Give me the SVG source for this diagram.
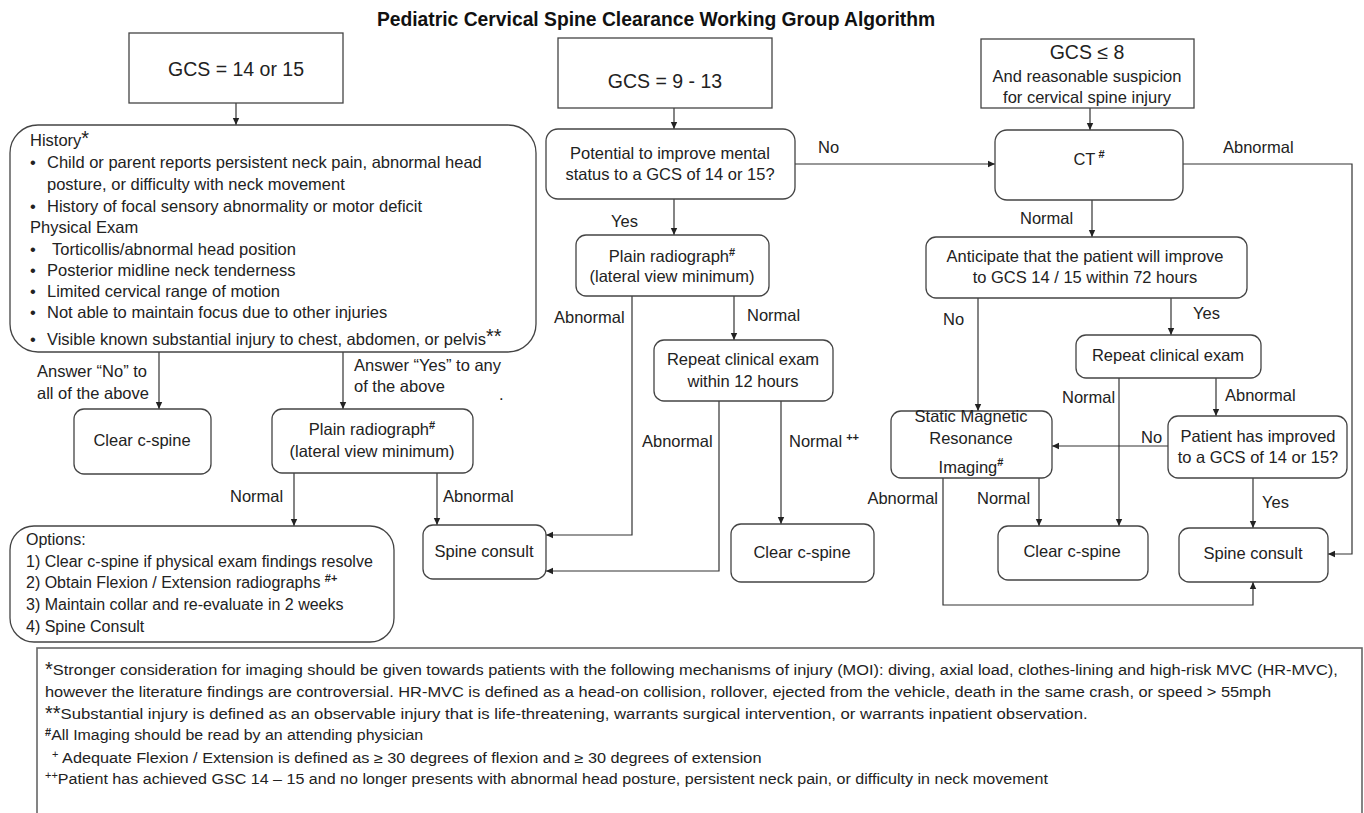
<svg xmlns="http://www.w3.org/2000/svg" width="1364" height="813" viewBox="0 0 1364 813">
<style>
text{font-family:"Liberation Sans",Arial,sans-serif;font-size:16.5px;fill:#222}
.c{text-anchor:middle}
.e{text-anchor:end}
.big{font-size:19.5px}
.title{font-size:19.3px;font-weight:bold;fill:#111}
.o{font-size:16px}
.f{font-size:14px}
.box{fill:#fff;stroke:#444;stroke-width:1.3}
.ln{fill:none;stroke:#333;stroke-width:1.2}
.ft{fill:#fff;stroke:#666;stroke-width:1.6}
.sup{font-size:11px;font-weight:bold}
.star{font-size:20px}
</style>
<defs>
<marker id="ah" markerUnits="userSpaceOnUse" markerWidth="8" markerHeight="8" refX="7" refY="4" orient="auto">
<path d="M0,0.8 L7,4 L0,7.2 z" fill="#222"/>
</marker>
</defs>
<rect width="1364" height="813" fill="#fff"/>
<text class="title c" x="656" y="26">Pediatric Cervical Spine Clearance Working Group Algorithm</text>

<g id="connectors" class="ln">
<path class="ln" d="M236,103 V125" marker-end="url(#ah)"/>
<path class="ln" d="M159,352 V409" marker-end="url(#ah)"/>
<path class="ln" d="M343,352 V409" marker-end="url(#ah)"/>
<path class="ln" d="M294,473 V526" marker-end="url(#ah)"/>
<path class="ln" d="M437,473 V525" marker-end="url(#ah)"/>
<path class="ln" d="M674,108 V129" marker-end="url(#ah)"/>
<path class="ln" d="M674,199 V235" marker-end="url(#ah)"/>
<path class="ln" d="M795,164 H995" marker-end="url(#ah)"/>
<path class="ln" d="M632,296 V535 H546" marker-end="url(#ah)"/>
<path class="ln" d="M734,296 V340" marker-end="url(#ah)"/>
<path class="ln" d="M719,401 V571 H546" marker-end="url(#ah)"/>
<path class="ln" d="M781,401 V524" marker-end="url(#ah)"/>
<path class="ln" d="M1090,108 V130" marker-end="url(#ah)"/>
<path class="ln" d="M1183,164 H1352 V554 H1328" marker-end="url(#ah)"/>
<path class="ln" d="M1092,200 V237" marker-end="url(#ah)"/>
<path class="ln" d="M978,298 V411" marker-end="url(#ah)"/>
<path class="ln" d="M1171,298 V335" marker-end="url(#ah)"/>
<path class="ln" d="M1119,378 V526" marker-end="url(#ah)"/>
<path class="ln" d="M1216,378 V416" marker-end="url(#ah)"/>
<path class="ln" d="M1168,446 H1052" marker-end="url(#ah)"/>
<path class="ln" d="M1039,478 V526" marker-end="url(#ah)"/>
<path class="ln" d="M943,478 V605 H1253 V582" marker-end="url(#ah)"/>
<path class="ln" d="M1253,478 V528" marker-end="url(#ah)"/>
</g>

<g id="edge-labels">
<text x="37" y="377">Answer “No” to</text>
<text x="37" y="399">all of the above</text>
<text x="354" y="371">Answer “Yes” to any</text>
<text x="354" y="392">of the above</text>
<text x="499" y="400">.</text>
<text x="230" y="502">Normal</text>
<text x="443" y="502">Abnormal</text>
<text x="818" y="153">No</text>
<text x="611" y="227">Yes</text>
<text x="554" y="323">Abnormal</text>
<text x="747" y="321">Normal</text>
<text x="642" y="447">Abnormal</text>
<text x="789" y="447">Normal<tspan class="sup" dx="4" dy="-6">++</tspan></text>
<text x="1223" y="153">Abnormal</text>
<text x="1020" y="224">Normal</text>
<text x="943" y="325">No</text>
<text x="1193" y="319">Yes</text>
<text x="1062" y="403">Normal</text>
<text x="1225" y="401">Abnormal</text>
<text x="1141" y="443">No</text>
<text x="977" y="504">Normal</text>
<text class="e" x="938" y="504">Abnormal</text>
<text x="1262" y="508">Yes</text>
</g>

<g id="gcs-14-15">
<rect class="box" x="129" y="33" width="214" height="70"/>
<text class="big c" x="236" y="76">GCS = 14 or 15</text>
</g>

<g id="history">
<rect class="box" x="10" y="125" width="526" height="227" rx="28"/>
<text x="30" y="146">History<tspan class="star" dy="-1">*</tspan></text>
<text x="30" y="168">•</text><text x="47" y="168">Child or parent reports persistent neck pain, abnormal head</text>
<text x="47" y="190">posture, or difficulty with neck movement</text>
<text x="30" y="212">•</text><text x="47" y="212">History of focal sensory abnormality or motor deficit</text>
<text x="30" y="233">Physical Exam</text>
<text x="30" y="255">•</text><text x="52" y="255">Torticollis/abnormal head position</text>
<text x="30" y="276">•</text><text x="47" y="276">Posterior midline neck tenderness</text>
<text x="30" y="297">•</text><text x="47" y="297">Limited cervical range of motion</text>
<text x="30" y="318">•</text><text x="47" y="318">Not able to maintain focus due to other injuries</text>
<text x="30" y="345">•</text><text x="47" y="345">Visible known substantial injury to chest, abdomen, or pelvis<tspan class="star" dy="-2">**</tspan></text>
</g>

<g id="clear-left">
<rect class="box" x="74" y="409" width="137" height="65" rx="10"/>
<text class="c" x="142" y="446">Clear c-spine</text>
</g>

<g id="plain-left">
<rect class="box" x="272" y="409" width="201" height="64" rx="10"/>
<text class="c" x="372" y="435">Plain radiograph<tspan class="sup" dy="-6">#</tspan></text>
<text class="c" x="372" y="457">(lateral view minimum)</text>
</g>

<g id="options">
<rect class="box" x="10" y="526" width="384" height="116" rx="24"/>
<text class="o" x="26" y="545">Options:</text>
<text class="o" x="26" y="567">1) Clear c-spine if physical exam findings resolve</text>
<text class="o" x="26" y="588">2) Obtain Flexion / Extension radiographs <tspan class="sup" dy="-6">#+</tspan></text>
<text class="o" x="26" y="610">3) Maintain collar and re-evaluate in 2 weeks</text>
<text class="o" x="26" y="632">4) Spine Consult</text>
</g>

<g id="spine-left">
<rect class="box" x="423" y="525" width="123" height="54" rx="10"/>
<text class="c" x="484" y="557">Spine consult</text>
</g>

<g id="gcs-9-13">
<rect class="box" x="558" y="38" width="214" height="70"/>
<text class="big c" x="665" y="88">GCS =  9 - 13</text>
</g>

<g id="potential">
<rect class="box" x="546" y="129" width="249" height="70" rx="12"/>
<text class="c" x="670" y="159">Potential to improve mental</text>
<text class="c" x="670" y="180">status to a GCS of 14 or 15?</text>
</g>

<g id="plain-mid">
<rect class="box" x="576" y="235" width="193" height="61" rx="10"/>
<text class="c" x="672" y="262">Plain radiograph<tspan class="sup" dy="-6">#</tspan></text>
<text class="c" x="672" y="282">(lateral view minimum)</text>
</g>

<g id="repeat-12">
<rect class="box" x="654" y="340" width="179" height="61" rx="10"/>
<text class="c" x="743" y="365">Repeat clinical exam</text>
<text class="c" x="743" y="387">within 12 hours</text>
</g>

<g id="clear-mid">
<rect class="box" x="731" y="524" width="143" height="58" rx="10"/>
<text class="c" x="802" y="558">Clear c-spine</text>
</g>

<g id="gcs-8">
<rect class="box" x="981" y="39" width="213" height="69"/>
<text class="big c" x="1087" y="59">GCS ≤ 8</text>
<text class="c" x="1087" y="82">And reasonable suspicion</text>
<text class="c" x="1087" y="103">for cervical spine injury</text>
</g>

<g id="ct">
<rect class="box" x="995" y="130" width="188" height="70" rx="12"/>
<text class="c" x="1089" y="165">CT<tspan class="sup" dx="3" dy="-7">#</tspan></text>
</g>

<g id="anticipate">
<rect class="box" x="926" y="237" width="321" height="61" rx="10"/>
<text class="c" x="1085" y="262">Anticipate that the patient will improve</text>
<text class="c" x="1085" y="283">to GCS 14 / 15 within 72 hours</text>
</g>

<g id="repeat-right">
<rect class="box" x="1076" y="335" width="185" height="43" rx="10"/>
<text class="c" x="1168" y="361">Repeat clinical exam</text>
</g>

<g id="patient-improved">
<rect class="box" x="1168" y="416" width="179" height="62" rx="10"/>
<text class="c" x="1258" y="442">Patient has improved</text>
<text class="c" x="1258" y="463">to a GCS of 14 or 15?</text>
</g>

<g id="mri">
<rect class="box" x="891" y="411" width="161" height="67" rx="10"/>
<text class="c" x="971" y="422">Static Magnetic</text>
<text class="c" x="971" y="444">Resonance</text>
<text class="c" x="971" y="473">Imaging<tspan class="sup" dy="-7">#</tspan></text>
</g>

<g id="clear-right">
<rect class="box" x="998" y="526" width="150" height="54" rx="10"/>
<text class="c" x="1072" y="557">Clear c-spine</text>
</g>

<g id="spine-right">
<rect class="box" x="1179" y="528" width="149" height="54" rx="10"/>
<text class="c" x="1253" y="559">Spine consult</text>
</g>

<g id="footnotes">
<rect class="ft" x="37" y="648" width="1325" height="200"/>
<text class="f" x="45" y="675"><tspan class="star" dy="1">*</tspan><tspan dy="-1" textLength="1285" lengthAdjust="spacingAndGlyphs">Stronger consideration for imaging should be given towards patients with the following mechanisms of injury (MOI): diving, axial load, clothes-lining and high-risk MVC (HR-MVC),</tspan></text>
<text class="f" x="45" y="697" textLength="1226" lengthAdjust="spacingAndGlyphs">however the literature findings are controversial. HR-MVC is defined as a head-on collision, rollover, ejected from the vehicle, death in the same crash, or speed &gt; 55mph</text>
<text class="f" x="45" y="719"><tspan class="star" dy="1">**</tspan><tspan dy="-1" textLength="1027" lengthAdjust="spacingAndGlyphs">Substantial injury is defined as an observable injury that is life-threatening, warrants surgical intervention, or warrants inpatient observation.</tspan></text>
<text class="f" x="45" y="740"><tspan class="sup" dy="-4">#</tspan><tspan dy="4" textLength="372" lengthAdjust="spacingAndGlyphs">All Imaging should be read by an attending physician</tspan></text>
<text class="f" x="52" y="763"><tspan class="sup" style="font-weight:normal" dy="-5">+</tspan><tspan dy="5" textLength="703" lengthAdjust="spacingAndGlyphs"> Adequate Flexion / Extension is defined as ≥ 30  degrees of flexion and ≥ 30 degrees of extension</tspan></text>
<text class="f" x="45" y="784"><tspan class="sup" style="font-weight:normal" dy="-5">++</tspan><tspan dy="5" textLength="990" lengthAdjust="spacingAndGlyphs">Patient has achieved GSC 14 – 15 and no longer presents with abnormal head posture, persistent neck pain, or difficulty in neck movement</tspan></text>
</g>
</svg>
